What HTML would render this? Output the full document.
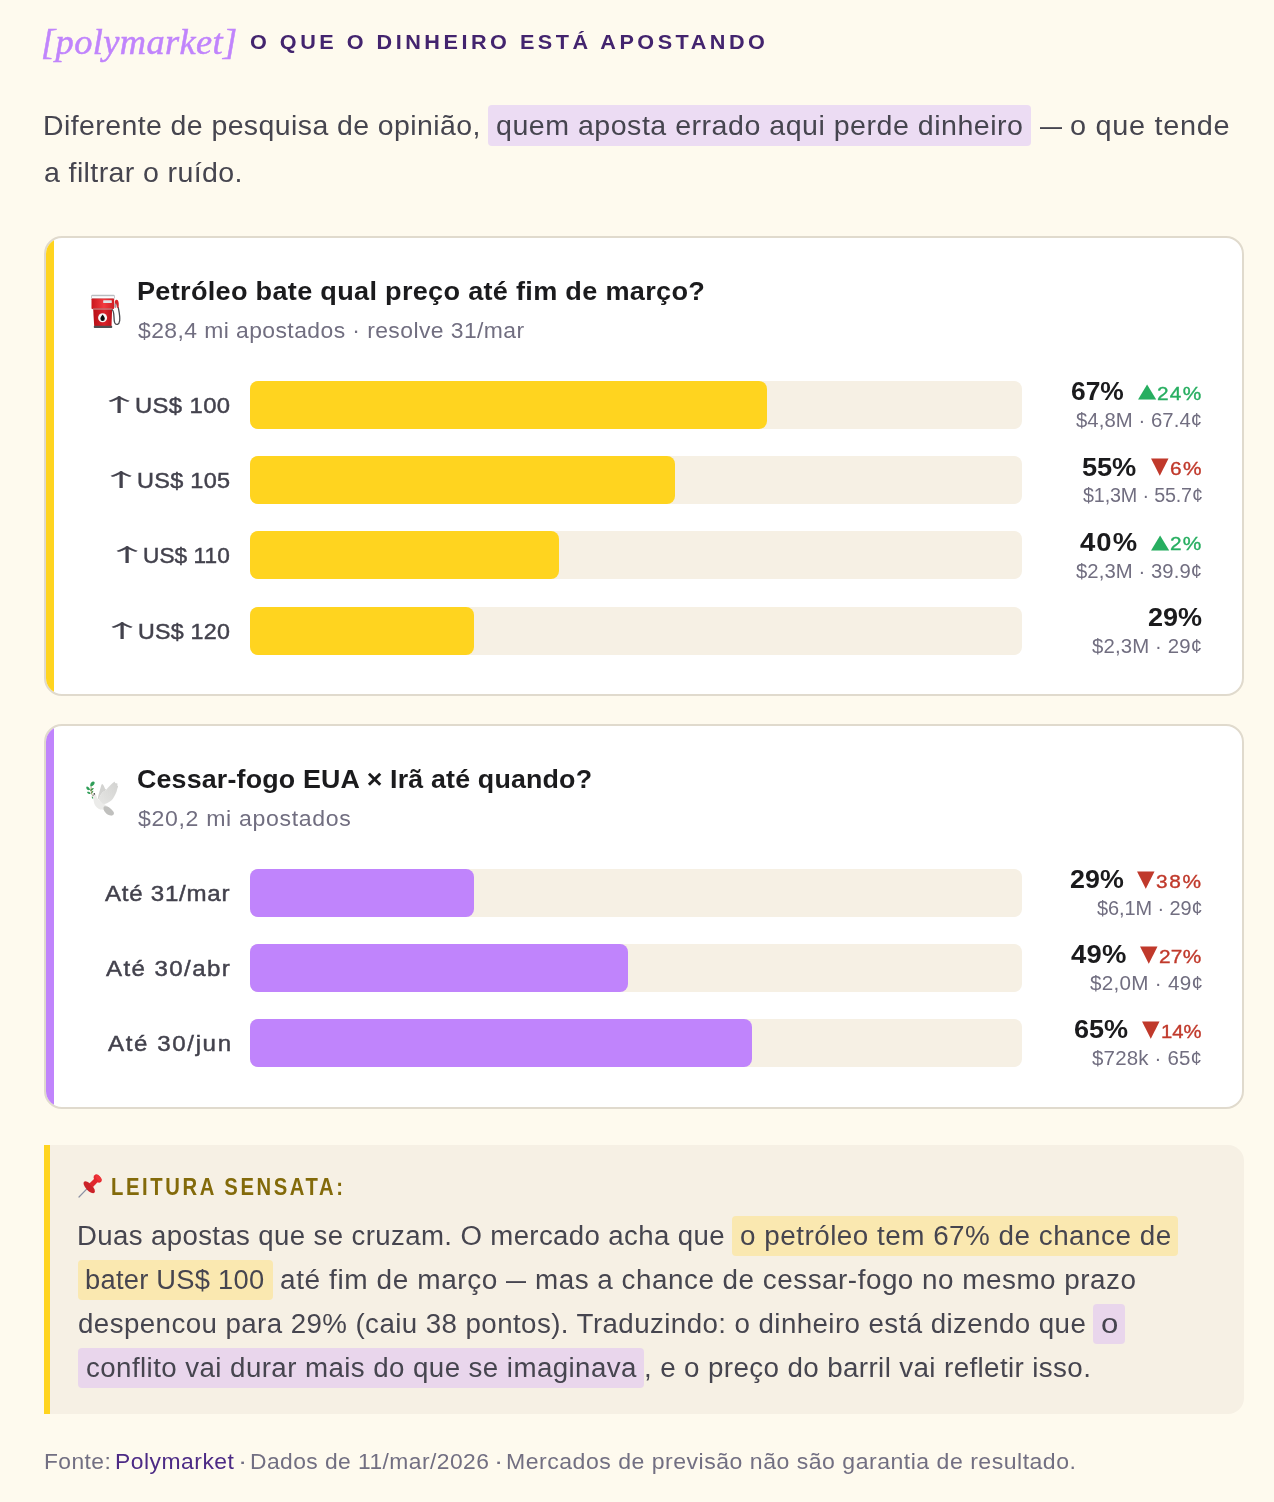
<!DOCTYPE html>
<html lang="pt-BR">
<head>
<meta charset="utf-8">
<title>Polymarket — o que o dinheiro está apostando</title>
<style>
*{box-sizing:border-box;margin:0;padding:0}
html,body{width:1274px;height:1502px;overflow:hidden}
body{background:#fefaee;font-family:"Liberation Sans",sans-serif;position:relative}
.t{position:absolute;white-space:nowrap;line-height:1;margin:0}
.b{position:absolute}
.card{background:#fff;border:2px solid #e0dacd;border-radius:18px;overflow:hidden}
.card i{position:absolute;left:-2px;top:-2px;bottom:-2px;width:10px}
.track{background:#f6f0e4;border-radius:8px}
.fy{background:#ffd41f;border-radius:8px}
.fp{background:#c084fc;border-radius:8px}
.hp{background:#ecdcf3;border-radius:4px}
.hp2{background:#e9d6ec;border-radius:4px}
.hy{background:#fae8b0;border-radius:4px}
.note{background:#f6f0e4;border-left:6px solid #ffd41f;border-radius:0 16px 16px 0}
svg{position:absolute;overflow:visible}

</style>
</head>
<body>
<header>
<span class="t" id="logo" style="left:41px;top:25px;font-size:35px;color:#c084fc;font-family:'Liberation Serif',serif;font-style:italic;letter-spacing:0.39px;-webkit-text-stroke:0.5px #c084fc;transform-origin:0 29.63px;transform:scale(1.0384,1.0000);">[polymarket]</span>
<h1 class="t" id="kick" style="left:250px;top:32px;font-size:20.8px;color:#43246e;font-weight:700;letter-spacing:3.37px;transform-origin:0 17.61px;transform:scale(1.0400,1.0000);">O QUE O DINHEIRO ESTÁ APOSTANDO</h1>
</header>
<p class="lead">
<span class="b hp" style="left:488px;top:105px;width:542.5px;height:40.6px"></span>
<span class="t" id="l1a" style="left:43px;top:112px;font-size:27.5px;color:#46454f;letter-spacing:0.41px;transform-origin:0 23.28px;transform:scale(1.0344,1.0000);">Diferente de pesquisa de opinião,</span>
<span class="t" id="l1b" style="left:496px;top:112px;font-size:27.5px;color:#46454f;letter-spacing:0.49px;transform-origin:0 23.28px;transform:scale(1.0386,1.0000);">quem aposta errado aqui perde dinheiro</span>
<span class="t" id="l1d" style="left:1040px;top:112px;font-size:27.5px;color:#46454f;transform-origin:0 23.28px;transform:scale(0.8004,1.0000);">—</span>
<span class="t" id="l1c" style="left:1070px;top:112px;font-size:27.5px;color:#46454f;letter-spacing:0.68px;transform-origin:0 23.28px;transform:scale(1.0498,1.0000);">o que tende</span>
<span class="t" id="l2" style="left:44px;top:159px;font-size:27.5px;color:#46454f;letter-spacing:0.37px;transform-origin:0 23.28px;transform:scale(1.0378,1.0000);">a filtrar o ruído.</span>
</p>
<svg width="0" height="0" style="left:0;top:0" aria-hidden="true"><defs>
<linearGradient id="gp1" x1="0" x2="1" y1="0" y2="0"><stop offset="0" stop-color="#c9161d"/><stop offset=".55" stop-color="#f23a3f"/><stop offset="1" stop-color="#d01e24"/></linearGradient>
<linearGradient id="gp2" x1="0" x2="1" y1="0" y2="0"><stop offset="0" stop-color="#b70f17"/><stop offset=".6" stop-color="#d9222a"/><stop offset="1" stop-color="#b8121a"/></linearGradient>
<linearGradient id="gw" x1="0" x2="1" y1="1" y2="0"><stop offset="0" stop-color="#e6e6e4"/><stop offset="1" stop-color="#d2d2d0"/></linearGradient>
</defs></svg>
<section class="market oil">
<div class="b card" style="left:44px;top:236px;width:1200px;height:460px"><i style="background:#ffd41f"></i></div>
<svg width="1274" height="1502" viewBox="0 0 1274 1502" style="left:0;top:0" aria-hidden="true"><g>
<rect x="91.2" y="294.8" width="23.6" height="4.2" rx="1.2" fill="#b9bcc0"/>
<rect x="92" y="296.2" width="22" height="2.2" fill="#fdfdfd"/>
<rect x="91.5" y="298.4" width="22.6" height="10.6" rx=".8" fill="url(#gp1)"/>
<rect x="103.2" y="300.3" width="8.6" height="2.7" rx=".5" fill="#dfe3e6"/>
<rect x="92.8" y="308.4" width="19.4" height="1.3" fill="#b87a78"/>
<path d="M93.2 309.6H112.1L111.5 326.2H94.2Z" fill="url(#gp2)"/>
<rect x="93.8" y="325.8" width="18.4" height="2.3" rx=".8" fill="#4e4f52"/>
<circle cx="102.6" cy="317.7" r="4.5" fill="#f6f6f6"/>
<path d="M102.6 314.6c1.3 1.7 2.2 2.9 2.2 4.1a2.2 2.2 0 0 1-4.4 0c0-1.2.9-2.4 2.2-4.1z" fill="#0c0c0c"/>
<path d="M112.2 309.8c2.6 2 1.2 9.200 2.400 12.600 1.300 3.200 4.600 2.400 5.100-1.700.5-4.400-.7-9.400-1.500-13.400" fill="none" stroke="#4a4b50" stroke-width="1.3" stroke-linecap="round"/>
<path d="M114.800 301.5c.3-1.700 2.100-2.300 3-1.200 1.100 1.400 1.200 4.800.7 7.400l-1.300.2c-.1-1.600-.2-2.900-.6-3.600l-.5 3.300-1.500-.2z" fill="#d3262b"/>
<rect x="114.600" y="303.600" width="1.700" height="3.800" fill="#9aa0a6"/>
</g></svg>
<h2 class="t" id="t1" style="left:137px;top:278px;font-size:26.5px;color:#1b1b1d;font-weight:700;letter-spacing:0.29px;transform-origin:0 22.43px;transform:scale(1.0225,1.0000);">Petróleo bate qual preço até fim de março?</h2>
<p class="t" id="s1" style="left:138px;top:320px;font-size:22px;color:#716e80;letter-spacing:0.41px;transform-origin:0 18.62px;transform:scale(1.0407,1.0000);">$28,4 mi apostados · resolve 31/mar</p>
<div class="row">
<span class="t" id="a0" style="left:97px;top:394px;font-size:20px;color:#43424d;font-family:'Noto Sans CJK JP','DejaVu Sans',sans-serif;-webkit-text-stroke:0.12px #43424d;transform-origin:0 16.93px;transform:scale(2.2172,0.9157);">↑</span>
<span class="t" id="lb0" style="left:135px;top:395px;font-size:22.3px;color:#43424d;letter-spacing:0.36px;-webkit-text-stroke:0.45px #43424d;transform-origin:0 18.88px;transform:scale(1.0683,1.0000);">US$ 100</span>
<div class="b track" style="left:250px;top:381px;width:772px;height:48px"></div>
<div class="b fy" style="left:250px;top:381px;width:517px;height:48px"></div>
<b class="t" id="p0" style="left:1071px;top:379px;font-size:25.2px;color:#1b1b1d;font-weight:700;transform-origin:0 21.33px;transform:scale(1.0475,1.0000);">67%</b>
<span class="t" id="tr0" style="left:1138px;top:379px;font-size:22px;color:#27ae60;font-family:'DejaVu Sans','Liberation Sans',sans-serif;transform-origin:0 18.62px;transform:scale(1.0784,0.8785);">▲</span>
<span class="t" id="d0" style="left:1157px;top:385px;font-size:18.6px;color:#27ae60;letter-spacing:1.14px;-webkit-text-stroke:0.35px #27ae60;transform-origin:0 15.74px;transform:scale(1.1200,1.0000);">24%</span>
<span class="t" id="v0" style="left:1076px;top:410px;font-size:20.1px;color:#716e80;letter-spacing:0.08px;transform-origin:0 17.01px;transform:scale(1.0087,1.0000);">$4,8M · 67.4¢</span>
</div>
<div class="row">
<span class="t" id="a1" style="left:99px;top:469px;font-size:20px;color:#43424d;font-family:'Noto Sans CJK JP','DejaVu Sans',sans-serif;-webkit-text-stroke:0.12px #43424d;transform-origin:0 16.93px;transform:scale(2.2172,0.9157);">↑</span>
<span class="t" id="lb1" style="left:137px;top:470px;font-size:22.3px;color:#43424d;letter-spacing:0.27px;-webkit-text-stroke:0.45px #43424d;transform-origin:0 18.88px;transform:scale(1.0524,1.0000);">US$ 105</span>
<div class="b track" style="left:250px;top:456px;width:772px;height:48px"></div>
<div class="b fy" style="left:250px;top:456px;width:425px;height:48px"></div>
<b class="t" id="p1" style="left:1082px;top:455px;font-size:25.2px;color:#1b1b1d;font-weight:700;letter-spacing:-0.09px;transform-origin:0 21.33px;transform:scale(1.0811,1.0000);">55%</b>
<span class="t" id="tr1" style="left:1151px;top:455px;font-size:22px;color:#c0392b;font-family:'DejaVu Sans','Liberation Sans',sans-serif;transform-origin:0 18.62px;transform:scale(1.0402,1.0289);">▼</span>
<span class="t" id="d1" style="left:1170px;top:460px;font-size:18.6px;color:#c0392b;letter-spacing:1.16px;-webkit-text-stroke:0.35px #c0392b;transform-origin:0 15.74px;transform:scale(1.1200,1.0000);">6%</span>
<span class="t" id="v1" style="left:1083px;top:485px;font-size:20.1px;color:#716e80;letter-spacing:-0.17px;transform-origin:0 17.01px;transform:scale(0.9832,1.0000);">$1,3M · 55.7¢</span>
</div>
<div class="row">
<span class="t" id="a2" style="left:105px;top:544px;font-size:20px;color:#43424d;font-family:'Noto Sans CJK JP','DejaVu Sans',sans-serif;-webkit-text-stroke:0.12px #43424d;transform-origin:0 16.93px;transform:scale(2.2172,0.9157);">↑</span>
<span class="t" id="lb2" style="left:143px;top:545px;font-size:22.3px;color:#43424d;letter-spacing:0.07px;-webkit-text-stroke:0.45px #43424d;transform-origin:0 18.88px;transform:scale(1.0142,1.0000);">US$ 110</span>
<div class="b track" style="left:250px;top:531px;width:772px;height:48px"></div>
<div class="b fy" style="left:250px;top:531px;width:309px;height:48px"></div>
<b class="t" id="p2" style="left:1080px;top:530px;font-size:25.2px;color:#1b1b1d;font-weight:700;letter-spacing:0.97px;transform-origin:0 21.33px;transform:scale(1.0900,1.0000);">40%</b>
<span class="t" id="tr2" style="left:1151px;top:530px;font-size:22px;color:#27ae60;font-family:'DejaVu Sans','Liberation Sans',sans-serif;transform-origin:0 18.62px;transform:scale(1.0784,0.8785);">▲</span>
<span class="t" id="d2" style="left:1170px;top:535px;font-size:18.6px;color:#27ae60;letter-spacing:1.04px;-webkit-text-stroke:0.35px #27ae60;transform-origin:0 15.74px;transform:scale(1.1200,1.0000);">2%</span>
<span class="t" id="v2" style="left:1076px;top:561px;font-size:20.1px;color:#716e80;letter-spacing:0.08px;transform-origin:0 17.01px;transform:scale(1.0087,1.0000);">$2,3M · 39.9¢</span>
</div>
<div class="row">
<span class="t" id="a3" style="left:100px;top:620px;font-size:20px;color:#43424d;font-family:'Noto Sans CJK JP','DejaVu Sans',sans-serif;-webkit-text-stroke:0.12px #43424d;transform-origin:0 16.93px;transform:scale(2.2172,0.9157);">↑</span>
<span class="t" id="lb3" style="left:138px;top:621px;font-size:22.3px;color:#43424d;letter-spacing:0.21px;-webkit-text-stroke:0.45px #43424d;transform-origin:0 18.88px;transform:scale(1.0433,1.0000);">US$ 120</span>
<div class="b track" style="left:250px;top:607px;width:772px;height:48px"></div>
<div class="b fy" style="left:250px;top:607px;width:224px;height:48px"></div>
<b class="t" id="p3" style="left:1148px;top:605px;font-size:25.2px;color:#1b1b1d;font-weight:700;letter-spacing:-0.01px;transform-origin:0 21.33px;transform:scale(1.0735,1.0000);">29%</b>
<span class="t" id="v3" style="left:1092px;top:636px;font-size:20.1px;color:#716e80;letter-spacing:0.14px;transform-origin:0 17.01px;transform:scale(1.0136,1.0000);">$2,3M · 29¢</span>
</div>
</section>
<section class="market truce">
<div class="b card" style="left:44px;top:724px;width:1200px;height:385px"><i style="background:#c084fc"></i></div>
<svg width="1274" height="1502" viewBox="0 0 1274 1502" style="left:0;top:0" aria-hidden="true"><g>
<path d="M92.300 781.800c1.800-.6 2.600.3 2.300 1.500-.4 1.600-2.300 3.200-4.100 3.300-.8-1.800.2-4.100 1.800-4.800z" fill="#2f9e58"/>
<path d="M86.800 786.400c1.500.1 2.900 1.500 3.300 3.300-1.300 1-3 .3-3.600-1.100-.4-.9-.3-1.700.3-2.200z" fill="#2f9e58"/>
<path d="M93.800 787.900c-.2 1.400-1.700 2.800-3.600 3-.3-1.500 1.400-3.200 3.600-3z" fill="#3a9a50"/>
<path d="M87 792c1.500-.5 3.100.2 3.700 1.400-1.100 1-3.200.6-3.700-1.400z" fill="#2f9e58"/>
<path d="M93.300 790.800c.1 1.200-.8 2.400-2.100 2.700-.3-1.200.7-2.500 2.100-2.700z" fill="#4a9a55"/>
<path d="M91.200 786.500c-.3 2.800-.2 5.600.9 8.400M92.200 796.500l.4 1.500" stroke="#7a6a2a" stroke-width=".6" fill="none"/>
<path d="M92.400 797.200l.5 1.100" stroke="#3aa55e" stroke-width="1.100" stroke-linecap="round"/>
<path d="M98.05 797.47C98.11 796.38 98.71 794.40 99.13 792.77C99.55 791.15 100.10 789.16 100.58 787.72C101.06 786.27 101.48 784.41 102.02 784.11C102.56 783.81 103.35 785.19 103.83 785.91C104.31 786.64 104.55 787.78 104.91 788.44C105.27 789.10 106.29 789.28 105.99 789.88C105.69 790.49 104.07 791.09 103.10 792.05C102.14 793.01 100.94 794.46 100.22 795.66C99.49 796.86 99.13 798.97 98.77 799.27C98.41 799.57 97.99 798.55 98.05 797.47Z" fill="#d3d3d1"/>
<path d="M94.26 793.68C94.62 793.61 95.16 793.89 95.52 794.22C95.88 794.55 96.19 795.06 96.43 795.66C96.67 796.26 96.58 797.10 96.97 797.83C97.36 798.55 97.99 799.21 98.77 799.99C99.55 800.77 100.58 801.74 101.66 802.52C102.74 803.30 104.07 803.90 105.27 804.69C106.47 805.47 107.56 806.07 108.88 807.21C110.20 808.36 112.40 810.40 113.21 811.55C114.03 812.69 114.00 813.41 113.75 814.07C113.51 814.73 112.70 815.40 111.77 815.52C110.84 815.64 109.24 815.34 108.16 814.79C107.08 814.25 105.99 813.05 105.27 812.27C104.55 811.48 104.67 810.55 103.83 810.10C102.98 809.65 101.36 809.98 100.22 809.56C99.07 809.14 97.93 808.51 96.97 807.57C96.00 806.64 95.01 805.23 94.44 803.96C93.87 802.70 93.77 801.26 93.54 799.99C93.31 798.73 93.10 797.29 93.07 796.38C93.04 795.48 93.16 795.03 93.36 794.58C93.56 794.13 93.90 793.74 94.26 793.68Z" fill="#ebebe9"/>
<path d="M104.19 806.49C105.06 806.10 107.38 806.37 108.88 807.21C110.39 808.06 112.40 810.40 113.21 811.55C114.03 812.69 114.00 813.41 113.75 814.07C113.51 814.73 112.70 815.40 111.77 815.52C110.84 815.64 109.24 815.34 108.16 814.79C107.08 814.25 106.02 813.14 105.27 812.27C104.52 811.39 103.83 810.52 103.65 809.56C103.47 808.60 103.32 806.88 104.19 806.49Z" fill="#c0c0be"/>
<path d="M98.77 799.27C98.65 798.19 99.49 796.86 100.22 795.66C100.94 794.46 102.14 793.01 103.10 792.05C104.07 791.09 104.91 790.91 105.99 789.88C107.08 788.86 108.22 787.27 109.60 785.91C110.99 784.56 113.36 782.24 114.30 781.76C115.23 781.28 114.66 782.69 115.20 783.03C115.74 783.36 117.21 783.39 117.55 783.75C117.88 784.11 117.09 784.77 117.18 785.19C117.27 785.61 118.09 785.61 118.09 786.27C118.09 786.94 117.52 788.08 117.18 789.16C116.85 790.25 116.88 791.09 116.10 792.77C115.32 794.46 113.94 797.59 112.49 799.27C111.05 800.96 108.88 802.10 107.44 802.88C105.99 803.66 104.91 804.08 103.83 803.96C102.74 803.84 101.78 802.94 100.94 802.16C100.10 801.38 98.89 800.35 98.77 799.27Z" fill="url(#gw)"/>
<circle cx="94.300" cy="793.900" r=".8" fill="#3b3b3b"/>
<path d="M93.500 794.600l-1.600.9 1.800.4z" fill="#7a7a78"/>
</g></svg>
<h2 class="t" id="t2" style="left:137px;top:766px;font-size:26.5px;color:#1b1b1d;font-weight:700;letter-spacing:0.16px;transform-origin:0 22.43px;transform:scale(1.0122,1.0000);">Cessar-fogo EUA × Irã até quando?</h2>
<p class="t" id="s2" style="left:138px;top:808px;font-size:22px;color:#716e80;letter-spacing:0.63px;transform-origin:0 18.62px;transform:scale(1.0500,1.0000);">$20,2 mi apostados</p>
<div class="row">
<span class="t" id="mb0" style="left:105px;top:883px;font-size:22.3px;color:#43424d;letter-spacing:0.69px;-webkit-text-stroke:0.45px #43424d;transform-origin:0 18.88px;transform:scale(1.0800,1.0000);">Até 31/mar</span>
<div class="b track" style="left:250px;top:869px;width:772px;height:48px"></div>
<div class="b fp" style="left:250px;top:869px;width:224px;height:48px"></div>
<b class="t" id="q0" style="left:1070px;top:867px;font-size:25.2px;color:#1b1b1d;font-weight:700;letter-spacing:0.04px;transform-origin:0 21.33px;transform:scale(1.0653,1.0000);">29%</b>
<span class="t" id="ts0" style="left:1137px;top:868px;font-size:22px;color:#c0392b;font-family:'DejaVu Sans','Liberation Sans',sans-serif;transform-origin:0 18.62px;transform:scale(1.0402,1.0289);">▼</span>
<span class="t" id="e0" style="left:1156px;top:873px;font-size:18.6px;color:#c0392b;letter-spacing:1.50px;-webkit-text-stroke:0.35px #c0392b;transform-origin:0 15.74px;transform:scale(1.1200,1.0000);">38%</span>
<span class="t" id="w0" style="left:1097px;top:898px;font-size:20.1px;color:#716e80;letter-spacing:-0.09px;transform-origin:0 17.01px;transform:scale(0.9927,1.0000);">$6,1M · 29¢</span>
</div>
<div class="row">
<span class="t" id="mb1" style="left:106px;top:958px;font-size:22.3px;color:#43424d;letter-spacing:1.30px;-webkit-text-stroke:0.45px #43424d;transform-origin:0 18.88px;transform:scale(1.0800,1.0000);">Até 30/abr</span>
<div class="b track" style="left:250px;top:944px;width:772px;height:48px"></div>
<div class="b fp" style="left:250px;top:944px;width:378px;height:48px"></div>
<b class="t" id="q1" style="left:1071px;top:942px;font-size:25.2px;color:#1b1b1d;font-weight:700;letter-spacing:0.18px;transform-origin:0 21.33px;transform:scale(1.0900,1.0000);">49%</b>
<span class="t" id="ts1" style="left:1140px;top:943px;font-size:22px;color:#c0392b;font-family:'DejaVu Sans','Liberation Sans',sans-serif;transform-origin:0 18.62px;transform:scale(1.0402,1.0289);">▼</span>
<span class="t" id="e1" style="left:1159px;top:948px;font-size:18.6px;color:#c0392b;letter-spacing:0.26px;-webkit-text-stroke:0.35px #c0392b;transform-origin:0 15.74px;transform:scale(1.1200,1.0000);">27%</span>
<span class="t" id="w1" style="left:1090px;top:973px;font-size:20.1px;color:#716e80;letter-spacing:0.28px;transform-origin:0 17.01px;transform:scale(1.0260,1.0000);">$2,0M · 49¢</span>
</div>
<div class="row">
<span class="t" id="mb2" style="left:108px;top:1033px;font-size:22.3px;color:#43424d;letter-spacing:1.50px;-webkit-text-stroke:0.45px #43424d;transform-origin:0 18.88px;transform:scale(1.0800,1.0000);">Até 30/jun</span>
<div class="b track" style="left:250px;top:1019px;width:772px;height:48px"></div>
<div class="b fp" style="left:250px;top:1019px;width:502px;height:48px"></div>
<b class="t" id="q2" style="left:1074px;top:1017px;font-size:25.2px;color:#1b1b1d;font-weight:700;letter-spacing:-0.05px;transform-origin:0 21.33px;transform:scale(1.0742,1.0000);">65%</b>
<span class="t" id="ts2" style="left:1142px;top:1018px;font-size:22px;color:#c0392b;font-family:'DejaVu Sans','Liberation Sans',sans-serif;transform-origin:0 18.62px;transform:scale(1.0402,1.0289);">▼</span>
<span class="t" id="e2" style="left:1161px;top:1023px;font-size:18.6px;color:#c0392b;letter-spacing:-0.02px;-webkit-text-stroke:0.35px #c0392b;transform-origin:0 15.74px;transform:scale(1.0877,1.0000);">14%</span>
<span class="t" id="w2" style="left:1092px;top:1048px;font-size:20.1px;color:#716e80;letter-spacing:0.19px;transform-origin:0 17.01px;transform:scale(1.0181,1.0000);">$728k · 65¢</span>
</div>
</section>
<aside class="takeaway">
<div class="b note" style="left:44px;top:1145px;width:1200px;height:269px"></div>
<svg width="1274" height="1502" viewBox="0 0 1274 1502" style="left:0;top:0" aria-hidden="true"><g>
<path d="M79 1197L87.400 1188.300" stroke="#8b90a3" stroke-width="1.200" stroke-linecap="round"/>
<ellipse cx="0" cy="0" rx="7.600" ry="3.300" transform="translate(89.200 1187.200) rotate(47)" fill="#cb2228"/>
<path d="M89.300 1183.600L95.600 1177.400L98.900 1180.800L92.800 1187.300Z" fill="#df262c"/>
<ellipse cx="0" cy="0" rx="4.700" ry="3.100" transform="translate(97.700 1178.600) rotate(47)" fill="#e6272e"/>
<ellipse cx="0" cy="0" rx="3.400" ry="1.900" transform="translate(98.300 1178) rotate(47)" fill="#ee3539"/>
</g></svg>
<h3 class="t" id="nh" style="left:111px;top:1176px;font-size:23px;color:#836a0a;font-weight:700;letter-spacing:2.95px;transform-origin:0 19.47px;transform:scale(0.8800,1.0000);">LEITURA SENSATA:</h3>
<p>
<span class="b hy" style="left:732px;top:1216px;width:445.7px;height:39.7px"></span>
<span class="b hy" style="left:78px;top:1260px;width:194.9px;height:40px"></span>
<span class="b hp2" style="left:1093.1px;top:1304px;width:31.8px;height:40px"></span>
<span class="b hp2" style="left:78px;top:1348px;width:566px;height:40px"></span>
<span class="t" id="n1a" style="left:77px;top:1223px;font-size:26.8px;color:#46454f;letter-spacing:0.38px;transform-origin:0 22.69px;transform:scale(1.0290,1.0000);">Duas apostas que se cruzam. O mercado acha que</span>
<span class="t" id="n1b" style="left:740px;top:1223px;font-size:26.8px;color:#46454f;letter-spacing:0.49px;transform-origin:0 22.69px;transform:scale(1.0378,1.0000);">o petróleo tem 67% de chance de</span>
<span class="t" id="n2a" style="left:85px;top:1267px;font-size:26.8px;color:#46454f;letter-spacing:0.26px;transform-origin:0 22.69px;transform:scale(1.0184,1.0000);">bater US$ 100</span>
<span class="t" id="n2b" style="left:280px;top:1267px;font-size:26.8px;color:#46454f;letter-spacing:0.57px;transform-origin:0 22.69px;transform:scale(1.0445,1.0000);">até fim de março</span>
<span class="t" id="n2d" style="left:506px;top:1267px;font-size:26.8px;color:#46454f;transform-origin:0 22.69px;transform:scale(0.7470,1.0000);">—</span>
<span class="t" id="n2c" style="left:535px;top:1267px;font-size:26.8px;color:#46454f;letter-spacing:0.50px;transform-origin:0 22.69px;transform:scale(1.0379,1.0000);">mas a chance de cessar-fogo no mesmo prazo</span>
<span class="t" id="n3a" style="left:78px;top:1311px;font-size:26.8px;color:#46454f;letter-spacing:0.41px;transform-origin:0 22.69px;transform:scale(1.0334,1.0000);">despencou para 29% (caiu 38 pontos). Traduzindo: o dinheiro está dizendo que</span>
<span class="t" id="n3b" style="left:1101px;top:1311px;font-size:26.8px;color:#46454f;transform-origin:0 22.69px;transform:scale(1.1628,1.0000);">o</span>
<span class="t" id="n4a" style="left:86px;top:1355px;font-size:26.8px;color:#46454f;letter-spacing:0.41px;transform-origin:0 22.69px;transform:scale(1.0335,1.0000);">conflito vai durar mais do que se imaginava</span>
<span class="t" id="n4b" style="left:644px;top:1355px;font-size:26.8px;color:#46454f;letter-spacing:0.37px;transform-origin:0 22.69px;transform:scale(1.0358,1.0000);">, e o preço do barril vai refletir isso.</span>
</p>
</aside>
<footer>
<span class="t" id="f1" style="left:44px;top:1451px;font-size:22px;color:#726f82;letter-spacing:0.41px;transform-origin:0 18.62px;transform:scale(1.0363,1.0000);">Fonte:</span>
<a class="t" id="f2" style="left:115px;top:1451px;font-size:22px;color:#4c2a85;letter-spacing:0.48px;transform-origin:0 18.62px;transform:scale(1.0403,1.0000);">Polymarket</a>
<span class="t" id="f3a" style="left:238px;top:1451px;font-size:22px;color:#726f82;transform-origin:0 18.62px;transform:scale(1.2619,1.0000);">·</span>
<span class="t" id="f3b" style="left:250px;top:1451px;font-size:22px;color:#726f82;letter-spacing:0.42px;transform-origin:0 18.62px;transform:scale(1.0378,1.0000);">Dados de 11/mar/2026</span>
<span class="t" id="f3c" style="left:494px;top:1451px;font-size:22px;color:#726f82;transform-origin:0 18.62px;transform:scale(1.2619,1.0000);">·</span>
<span class="t" id="f3d" style="left:506px;top:1451px;font-size:22px;color:#726f82;letter-spacing:0.48px;transform-origin:0 18.62px;transform:scale(1.0481,1.0000);">Mercados de previsão não são garantia de resultado.</span>
</footer>
</body>
</html>
